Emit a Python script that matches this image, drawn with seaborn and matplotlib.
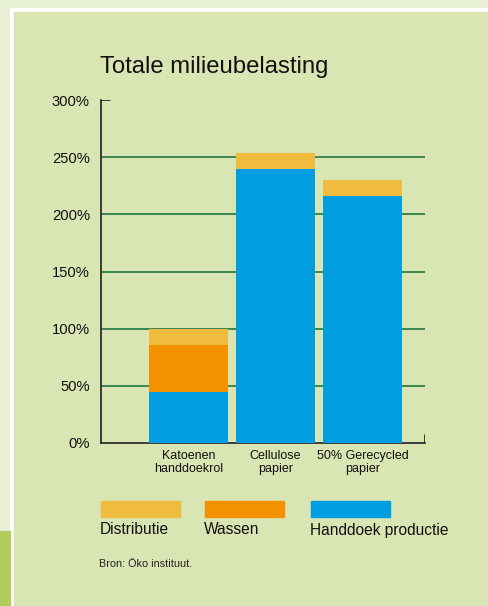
import matplotlib
matplotlib.use('Agg')
import matplotlib.pyplot as plt
from matplotlib.patches import Rectangle
import pandas as pd
import seaborn as sns

# Data (percent of total environmental load)
categories = ['Katoenen\nhanddoekrol', 'Cellulose\npapier', '50% Gerecycled\npapier']
productie = [45, 240, 216]
wassen = [41, 0, 0]
distributie = [14, 14, 14]
yticks = [0, 50, 100, 150, 200, 250, 300]
legend_labels = ['Distributie', 'Wassen', 'Handdoek productie']

c_dist = '#efbc40'
c_wash = '#f39200'
c_prod = '#009ee0'
panel = '#d9e5b2'
grid_green = '#2e7f48'

sns.set_style('white')
plt.rcParams['font.family'] = ['Liberation Sans', 'DejaVu Sans']

df = pd.DataFrame({'cat': categories, 'prod': productie, 'wash': wassen, 'dist': distributie})
df['lvl1'] = df['prod']
df['lvl2'] = df['prod'] + df['wash']
df['lvl3'] = df['lvl2'] + df['dist']

W, H = 488, 606
fig = plt.figure(figsize=(W / 100, H / 100), dpi=100, facecolor=panel)

# frame decoration
fig.add_artist(Rectangle((0, 0), 1, 1, transform=fig.transFigure, color='#e7efd5', zorder=-3))
fig.add_artist(Rectangle((10 / W, 0), 1, (H - 8) / H, transform=fig.transFigure, color='white', zorder=-2))
fig.add_artist(Rectangle((14 / W, 0), 1, (H - 12) / H, transform=fig.transFigure, color=panel, zorder=-1))
fig.add_artist(Rectangle((0, 0), 10 / W, 75 / H, transform=fig.transFigure, color='#b0cc5a', zorder=-1))


def px(x0, y0, x1, y1):
    return [x0 / W, (H - y1) / H, (x1 - x0) / W, (y1 - y0) / H]


ax = fig.add_axes(px(101, 100, 425, 443))
ax.set_facecolor('none')

bw = 79 / 87
for col, c in [('lvl3', c_dist), ('lvl2', c_wash), ('lvl1', c_prod)]:
    sns.barplot(data=df, x='cat', y=col, color=c, width=bw, saturation=1,
                linewidth=0, edgecolor=c, ax=ax, zorder=3)

ax.set_xlim(-87.5 / 87, 236.5 / 87)
ax.set_ylim(0, 300)
for v in yticks[1:-1]:
    ax.axhline(v, color=grid_green, lw=1.3, zorder=1)
ax.axhline(300, xmax=9 / 324, color='#222222', lw=1.2, zorder=2)
ax.axvline(236.5 / 87, ymax=8 / 343, color='#222222', lw=1.2, zorder=2)

ax.set_yticks(yticks)
ax.set_yticklabels([f'{v}%' for v in yticks], fontsize=10.6)
ax.tick_params(axis='y', length=0, pad=8, colors='#111111')
ax.tick_params(axis='x', length=0, pad=5, labelsize=9, colors='#111111')
for lbl in ax.get_xticklabels():
    lbl.set_linespacing(1.15)
ax.set_xlabel('')
ax.set_ylabel('')
for s in ['top', 'right']:
    ax.spines[s].set_visible(False)
for s in ['left', 'bottom']:
    ax.spines[s].set_color('#222222')
    ax.spines[s].set_linewidth(1.2)

fig.text(100 / W, 1 - 67 / H, 'Totale milieubelasting', fontsize=17.2, color='#111111', va='center')

# legend: swatches with labels underneath
legend_x = [101, 205, 311]
for x0, lab, col in zip(legend_x, legend_labels, [c_dist, c_wash, c_prod]):
    fig.add_artist(Rectangle((x0 / W, (H - 517) / H), 79 / W, 16 / H,
                             transform=fig.transFigure, color=col))
    fig.text((x0 - 1) / W, 1 - 530 / H, lab, fontsize=11.2, color='#111111', va='center')

fig.text(99 / W, 1 - 564 / H, 'Bron: Öko instituut.', fontsize=7.8, color='#222222', va='center')

fig.savefig('out.png', dpi=100, facecolor=panel)
